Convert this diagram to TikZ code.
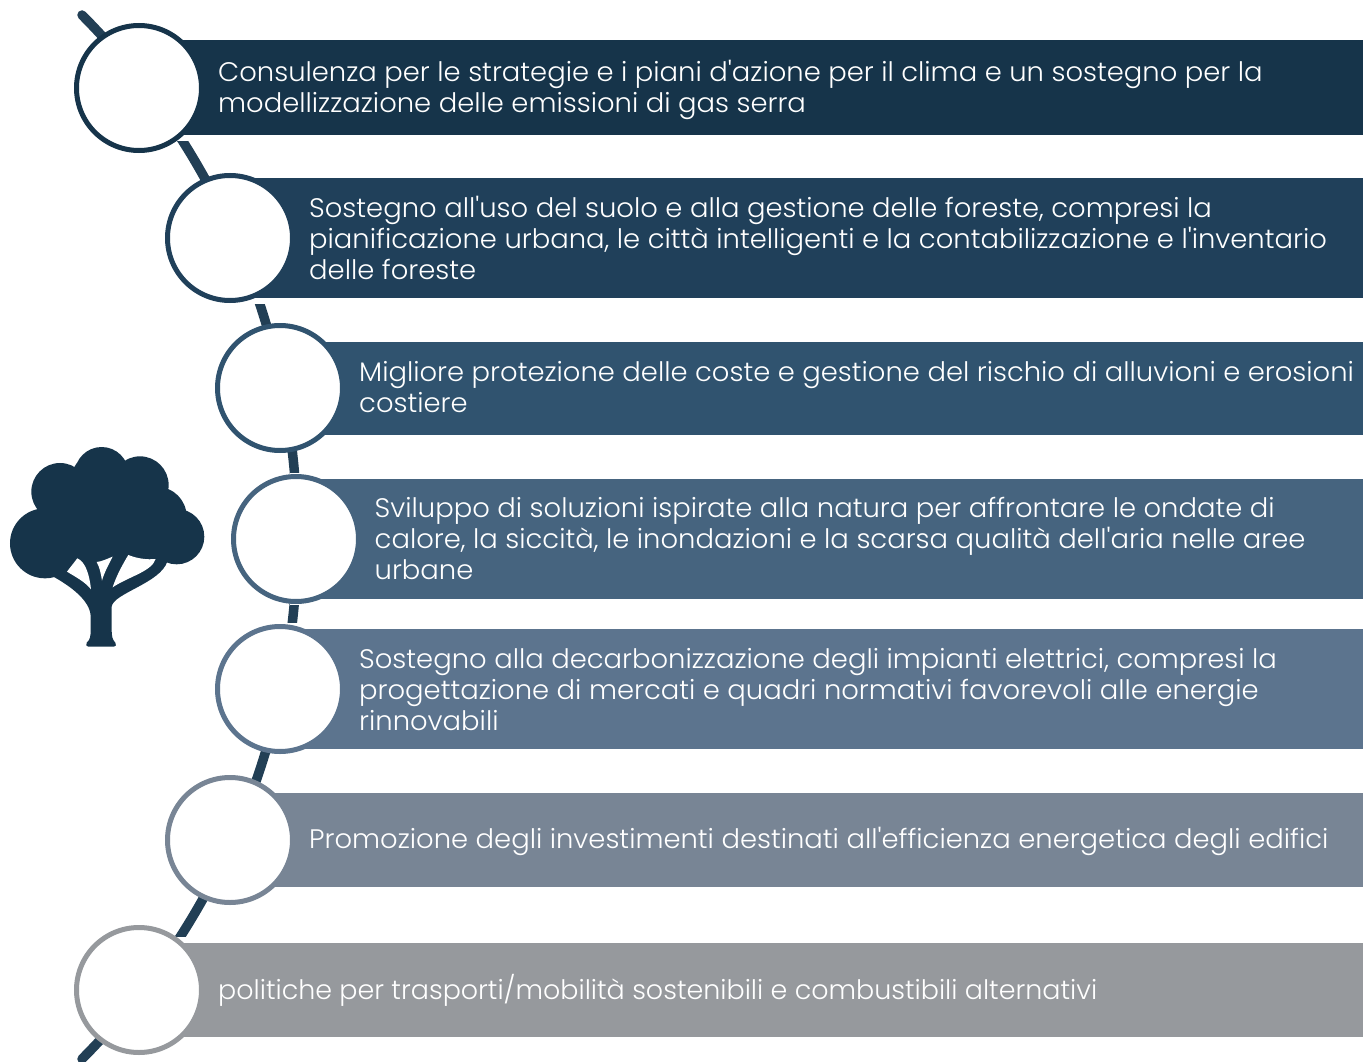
\documentclass[tikz,border=0pt]{standalone}
\usepackage{fontspec}
\setmainfont{Poppins Light}[FakeStretch=1.023,Ligatures=TeXOff]
\definecolor{cA}{HTML}{16344A}
\definecolor{cB}{HTML}{20405A}
\definecolor{cC}{HTML}{30536F}
\definecolor{cD}{HTML}{46647F}
\definecolor{cE}{HTML}{5C748E}
\definecolor{cF}{HTML}{788595}
\definecolor{cG}{HTML}{96999D}
\definecolor{cSpine}{HTML}{223F55}
\tikzset{
  bar/.style={rectangle,anchor=west,inner sep=0pt,minimum width=1400pt,fill=#1,preaction={draw=white,line width=12pt}},
  ring/.style={circle,draw=#1,fill=white,line width=5pt,minimum size=125pt,inner sep=0pt},
  lab/.style={anchor=west,align=left,text=white,font=\fontsize{26.8pt}{31pt}\selectfont,inner sep=0pt},
}
\begin{document}
\begin{tikzpicture}[x=1pt,y=-1pt]
\useasboundingbox (0,0) rectangle (1363,1062);
\clip (0,0) rectangle (1363,1062);
\coordinate (spineTop) at (82,15);
\coordinate (spineBot) at (82,1059);
\draw[cSpine,line width=9.5pt,line cap=round] (spineTop) .. controls (369,304) and (369,770) .. (spineBot);
% bars
\node[bar=cA,minimum height=95pt] (b1) at (139,88) {};
\node[bar=cB,minimum height=120pt] (b2) at (230,238) {};
\node[bar=cC,minimum height=93pt] (b3) at (280,388.5) {};
\node[bar=cD,minimum height=120pt] (b4) at (296,539) {};
\node[bar=cE,minimum height=120pt] (b5) at (280,689) {};
\node[bar=cF,minimum height=94pt] (b6) at (230,839.5) {};
\node[bar=cG,minimum height=94pt] (b7) at (139,990) {};
% circles
\node[ring=cA] (c1) at (139,88) {};
\node[ring=cB] (c2) at (230,238) {};
\node[ring=cC] (c3) at (280,388) {};
\node[ring=cD] (c4) at (296,539) {};
\node[ring=cE] (c5) at (280,689) {};
\node[ring=cF] (c6) at (230,840) {};
\node[ring=cG] (c7) at (139,990) {};
% labels
\node[lab] (t1) at (218,90) {Consulenza per le strategie e i piani d'azione per il clima e un sostegno per la\\modellizzazione delle emissioni di gas serra};
\node[lab] (t2) at (309,238) {Sostegno all'uso del suolo e alla gestione delle foreste, compresi la\\pianificazione urbana, le città intelligenti e la contabilizzazione e l'inventario\\delle foreste};
\node[lab] (t3) at (359,387.5) {Migliore protezione delle coste e gestione del rischio di alluvioni e erosioni\\costiere};
\node[lab] (t4) at (374.5,538) {Sviluppo di soluzioni ispirate alla natura per affrontare le ondate di\\calore, la siccità, le inondazioni e la scarsa qualità dell'aria nelle aree\\urbane};
\node[lab] (t5) at (359,689.5) {Sostegno alla decarbonizzazione degli impianti elettrici, compresi la\\progettazione di mercati e quadri normativi favorevoli alle energie\\rinnovabili};
\node[lab] (t6) at (309,841) {Promozione degli investimenti destinati all'efficienza energetica degli edifici};
\node[lab] (t7) at (218,990) {\addfontfeature{FakeStretch=1.005}politiche per trasporti/mobilità sostenibili e combustibili alternativi};
% tree
\begin{scope}[shift={(0,430)},x=0.3333pt,y=-0.3333pt]
\fill[cA] (135,340) circle (105) (180,185) circle (86) (305,132) circle (81) (420,165) circle (86)
  (470,260) circle (90) (530,320) circle (83) (300,270) circle (120);
\fill[cA] (140,240) -- (230,100) -- (400,100) -- (500,180) -- (560,300) -- (500,395) -- (465,388) -- (230,385) -- (160,440) -- cycle;
\fill[cA] (160,440) .. controls (205,465) and (272,510) .. (272,560)
  -- (272,600) .. controls (272,620) and (270,630) .. (260,638) .. controls (256,645) and (260,650) .. (265,650)
  -- (342,650) .. controls (348,650) and (350,644) .. (346,638) .. controls (338,630) and (335,620) .. (335,600)
  -- (335,530) .. controls (340,490) and (480,460) .. (502,395) -- (465,385) -- (230,380) -- cycle;
\fill[white] (201,425) -- (232,385) .. controls (255,395) and (268,430) .. (273,478) .. controls (255,455) and (225,440) .. (201,425) -- cycle;
\fill[white] (290,396) .. controls (305,395) and (325,385) .. (338,380) .. controls (325,405) and (312,430) .. (306,452) .. controls (303,430) and (298,410) .. (290,396) -- cycle;
\fill[white] (338,472) .. controls (350,435) and (370,400) .. (385,375) .. controls (410,385) and (440,390) .. (467,387) .. controls (455,425) and (385,440) .. (338,472) -- cycle;
\end{scope}
\end{tikzpicture}
\end{document}
